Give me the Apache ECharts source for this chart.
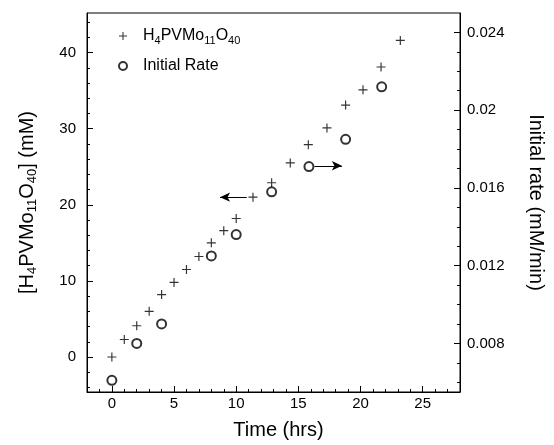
<!DOCTYPE html>
<html>
<head>
<meta charset="utf-8">
<script src="https://cdn.jsdelivr.net/npm/echarts@6/dist/echarts.min.js"></script>
<style>
  html, body { margin: 0; padding: 0; background: #fff; }
  #chart { width: 554px; height: 445px; }
</style>
</head>
<body>
<div id="chart"></div>
<script>
// ---- data ----
const timeH4 = [0, 1, 2, 3, 4, 5, 6, 7, 8, 9, 10, 11.35, 12.85, 14.35, 15.8, 17.3, 18.8, 20.2, 21.65, 23.2];
const concH4 = [0, 2.3, 4.1, 6.0, 8.2, 9.8, 11.5, 13.2, 15.0, 16.6, 18.2, 21.0, 22.9, 25.5, 27.9, 30.1, 33.1, 35.1, 38.1, 41.6];
const timeRate = [0, 2, 4, 8, 10, 12.85, 15.85, 18.8, 21.7];
const initialRate = [0.0061, 0.0080, 0.0090, 0.0125, 0.0136, 0.0158, 0.0171, 0.0185, 0.0212];

const xTickLabels = [0, 5, 10, 15, 20, 25];
const xMinorTicks = [-1, 1, 2, 3, 4, 6, 7, 8, 9, 11, 12, 13, 14, 16, 17, 18, 19, 21, 22, 23, 24, 26, 27];
const leftTickLabels = [0, 10, 20, 30, 40];
const leftMinorTicks = [-4, -2, 2, 4, 6, 8, 12, 14, 16, 18, 22, 24, 26, 28, 32, 34, 36, 38, 42, 44];
const rightTickLabels = [0.008, 0.012, 0.016, 0.02, 0.024];
const rightMinorTicks = [0.006, 0.007, 0.009, 0.010, 0.011, 0.013, 0.014, 0.015, 0.017, 0.018, 0.019, 0.021, 0.022, 0.023];

// arrow annotations: [start, end] in data units
const leftArrow = [[10.85, 21.0], [8.7, 21.0]];
const rightArrow = [[16.3, 0.01714], [18.5, 0.01714]];

const FONT = 'Liberation Sans, Arial, Helvetica, sans-serif';
const black = '#000';
const plusPath = 'path://M4.35,0H5.65V10H4.35Z M0,4.35H10V5.65H0Z';

function subRich(size, subSize, pad) {
  return {
    n: { fontSize: size, fontFamily: FONT, color: black },
    s: { fontSize: subSize, fontFamily: FONT, color: black, padding: [pad, 0, 0, 0] }
  };
}

const X = { min: -2, max: 28 };
const YL = { min: -4.6, max: 45.2 };
const YR = { min: 0.0055, max: 0.025 };

function minorAxis(range, pos, ticks) {
  return {
    type: 'value', min: range.min, max: range.max, position: pos,
    axisLine: { show: false, onZero: false },
    axisTick: { show: true, inside: true, length: 3, lineStyle: { color: black }, customValues: ticks },
    axisLabel: { show: false },
    splitLine: { show: false }
  };
}

const chart = echarts.init(document.getElementById('chart'), null, { renderer: 'canvas' });
chart.setOption({
  animation: false,
  backgroundColor: '#fff',
  grid: { left: 87, right: 94, top: 13, bottom: 53, containLabel: false, outerBoundsMode: 'none',
    show: true, borderColor: black, borderWidth: 1, backgroundColor: 'transparent' },
  legend: {
    orient: 'vertical',
    left: 113, top: 23,
    itemWidth: 30, itemHeight: 8, itemGap: 12,
    data: ['H4PVMo11O40', 'Initial Rate'],
    formatter: function (name) {
      if (name === 'H4PVMo11O40') return '{n|H}{s|4}{n|PVMo}{s|11}{n|O}{s|40}';
      return '{n|' + name + '}';
    },
    textStyle: { fontFamily: FONT, fontSize: 16, color: black, rich: subRich(16, 11, 9) }
  },
  xAxis: [
    {
      type: 'value', min: X.min, max: X.max, position: 'bottom',
      name: 'Time (hrs)', nameLocation: 'middle', nameGap: 28,
      nameTextStyle: { fontFamily: FONT, fontSize: 20, color: black, padding: [0, 0, 0, 10] },
      axisLine: { show: true, onZero: false, lineStyle: { color: black, width: 1 } },
      axisTick: { show: true, inside: true, length: 6, lineStyle: { color: black }, customValues: xTickLabels },
      axisLabel: { show: true, customValues: xTickLabels, fontFamily: FONT, fontSize: 15, color: black, margin: 4 },
      splitLine: { show: false }
    },
    minorAxis(X, 'bottom', xMinorTicks)
  ],
  yAxis: [
    {
      type: 'value', min: YL.min, max: YL.max, position: 'left',
      name: '{n|[H}{s|4}{n|PVMo}{s|11}{n|O}{s|40}{n|] (mM)}',
      nameLocation: 'middle', nameGap: 48, nameRotate: 90,
      nameTextStyle: { fontFamily: FONT, fontSize: 20, color: black, rich: subRich(20, 13, 11) },
      axisLine: { show: true, onZero: false, lineStyle: { color: black, width: 1 } },
      axisTick: { show: true, inside: true, length: 6, lineStyle: { color: black }, customValues: leftTickLabels },
      axisLabel: { show: true, customValues: leftTickLabels, fontFamily: FONT, fontSize: 15, color: black, margin: 11 },
      splitLine: { show: false }
    },
    minorAxis(YL, 'left', leftMinorTicks),
    {
      type: 'value', min: YR.min, max: YR.max, position: 'right',
      name: 'Initial rate (mM/min)',
      nameLocation: 'middle', nameGap: 66, nameRotate: -90,
      nameTextStyle: { fontFamily: FONT, fontSize: 20, color: black },
      axisLine: { show: true, onZero: false, lineStyle: { color: black, width: 1 } },
      axisTick: { show: true, inside: true, length: 6, lineStyle: { color: black }, customValues: rightTickLabels },
      axisLabel: { show: true, customValues: rightTickLabels, fontFamily: FONT, fontSize: 15, color: black, margin: 7,
        formatter: function (v) { return String(+v.toFixed(3)); } },
      splitLine: { show: false }
    },
    minorAxis(YR, 'right', rightMinorTicks)
  ],
  series: [
    {
      name: 'H4PVMo11O40', type: 'scatter', xAxisIndex: 0, yAxisIndex: 0,
      symbol: plusPath, symbolSize: 9,
      itemStyle: { color: black },
      data: timeH4.map((t, i) => [t, concH4[i]]),
      markLine: {
        silent: true, animation: false,
        symbol: ['none', 'arrow'], symbolSize: [7, 10],
        label: { show: false },
        lineStyle: { color: black, width: 1, type: 'solid' },
        data: [[{ coord: leftArrow[0] }, { coord: leftArrow[1] }]]
      }
    },
    {
      name: 'Initial Rate', type: 'scatter', xAxisIndex: 0, yAxisIndex: 2,
      symbol: 'emptyCircle', symbolSize: 9,
      itemStyle: { color: black, borderColor: black, borderWidth: 1.2 },
      data: timeRate.map((t, i) => [t, initialRate[i]]),
      markLine: {
        silent: true, animation: false,
        symbol: ['none', 'arrow'], symbolSize: [7, 10],
        label: { show: false },
        lineStyle: { color: black, width: 1, type: 'solid' },
        data: [[{ coord: rightArrow[0] }, { coord: rightArrow[1] }]]
      }
    }
  ]
});
</script>
</body>
</html>
